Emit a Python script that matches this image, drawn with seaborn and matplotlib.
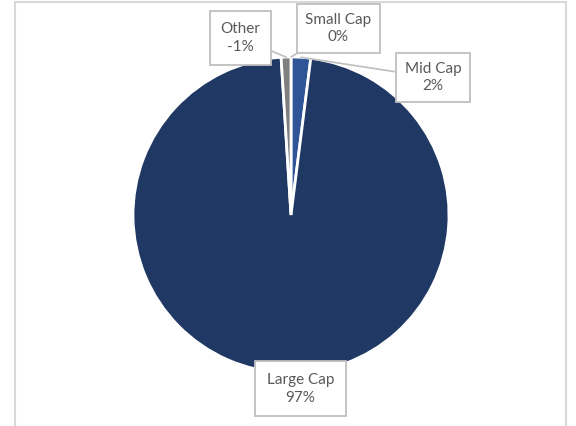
import numpy as np
import matplotlib
matplotlib.use("Agg")
import matplotlib.pyplot as plt
import seaborn as sns
from matplotlib.patches import Rectangle

# данные
categories = ["Small Cap", "Mid Cap", "Large Cap", "Other"]
values = [0, 2, 97, -1]
colors = ["#4472C4", "#2F5597", "#203864", "#7F7F7F"]

# позиции подписей (в координатах круга, радиус = 1) и отступы рамок
label_pos = [(0.30, 1.18), (0.90, 0.87), (0.06, -1.10), (-0.32, 1.12)]
label_pad = [0.55, 0.55, 0.75, 0.7]
show_line = [True, True, False, True]

sns.set_theme(style="white")
plt.rcParams["font.family"] = ["Lato", "DejaVu Sans"]

fig = plt.figure(figsize=(5.76, 4.26), dpi=100)
ax = fig.add_axes([133 / 576, 53 / 426, 316 / 576, 316 / 426])

sizes = [abs(v) for v in values]
wedges, _ = ax.pie(sizes, colors=colors, startangle=90, counterclock=False,
                   radius=1.0, wedgeprops=dict(edgecolor="white", linewidth=2))
ax.set_xlim(-1, 1)
ax.set_ylim(-1, 1)
ax.axis("off")

total = sum(sizes)
for w, name, v, pos, pad, line in zip(wedges, categories, values, label_pos, label_pad, show_line):
    ang = np.deg2rad((w.theta1 + w.theta2) / 2)
    xy = (np.cos(ang), np.sin(ang))
    pct = round(v / total * 100)
    ax.annotate(f"{name}\n{pct}%", xy=xy, xytext=pos, ha="center", va="center",
                fontsize=11, color="#595959", linespacing=1.35,
                bbox=dict(boxstyle=f"square,pad={pad}", fc="white", ec="#BFBFBF", lw=1.3),
                arrowprops=dict(arrowstyle="-", color="#BFBFBF", lw=1.2,
                                shrinkA=0, shrinkB=0) if line else None)

# рамка вокруг графика
fig.patches.append(Rectangle((15 / 576, -0.02), 551 / 576, 1.015, transform=fig.transFigure,
                             fill=False, ec="#D9D9D9", lw=1.5))

fig.savefig("out.png", dpi=100)
